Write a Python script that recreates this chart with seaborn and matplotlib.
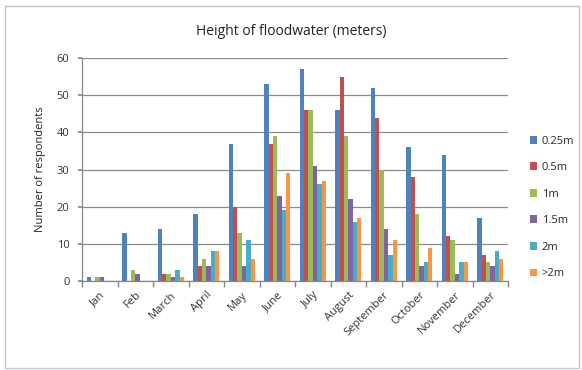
import matplotlib
matplotlib.use("Agg")
import matplotlib.pyplot as plt
from matplotlib.patches import Rectangle
import numpy as np
import pandas as pd
import seaborn as sns

months = ["Jan", "Feb", "March", "April", "May", "June", "July", "August",
          "September", "October", "November", "December"]
heights = ["0.25m", "0.5m", "1m", "1.5m", "2m", ">2m"]

h025 = [1, 13, 14, 18, 37, 53, 57, 46, 52, 36, 34, 17]
h05 = [0, 0, 2, 4, 20, 37, 46, 55, 44, 28, 12, 7]
h1 = [1, 3, 2, 6, 13, 39, 46, 39, 30, 18, 11, 5]
h15 = [1, 2, 1, 4, 4, 23, 31, 22, 14, 4, 2, 4]
h2 = [0, 0, 3, 8, 11, 19, 26, 16, 7, 5, 5, 8]
h2plus = [0, 0, 1, 8, 6, 29, 27, 17, 11, 9, 5, 6]

colors = ["#4F81BD", "#C0504D", "#9BBB59", "#8064A2", "#4BACC6", "#F79646"]

series = [h025, h05, h1, h15, h2, h2plus]
df = pd.DataFrame({
    "Month": np.repeat([months], len(heights), axis=0).ravel(),
    "Height": np.repeat(heights, len(months)),
    "Respondents": np.concatenate(series),
})

sns.set_theme(style="white")
plt.rcParams["font.family"] = ["Open Sans", "DejaVu Sans"]

fig = plt.figure(figsize=(5.82, 3.70), dpi=100)
ax = fig.add_axes([0.141, 0.2405, 0.732, 0.6025])

sns.barplot(data=df, x="Month", y="Respondents", hue="Height",
            order=months, hue_order=heights, palette=colors,
            width=0.74, gap=0, saturation=1, linewidth=0, edgecolor="none",
            ax=ax, legend=True)

ax.set_ylim(0, 60)
ax.set_xlim(-0.5, len(months) - 0.5)
ax.set_yticks(range(0, 61, 10))
ax.tick_params(axis="y", labelsize=8, length=3, color="#888888", colors="#333333")
ax.tick_params(axis="y", which="major", direction="out", left=True, pad=6)
ax.yaxis.grid(True, color="#8c8c8c", linewidth=0.9)
ax.set_axisbelow(True)

ax.set_xticks(range(len(months)))
ax.set_xticklabels(months, rotation=45, ha="right", rotation_mode="anchor",
                   fontsize=8, color="#333333")
ax.tick_params(axis="x", which="major", length=0, pad=6)
ax.set_xticks(np.arange(-0.5, len(months)), minor=True)
ax.tick_params(axis="x", which="minor", length=4, color="#888888", bottom=True,
               direction="out")

for side in ["top", "right"]:
    ax.spines[side].set_visible(False)
for side in ["left", "bottom"]:
    ax.spines[side].set_color("#888888")
    ax.spines[side].set_linewidth(0.9)

ax.set_xlabel("")
ax.set_ylabel("Number of respondents", fontsize=8, color="#222222", labelpad=8)
fig.text(0.5, 0.915, "Height of floodwater (meters)", ha="center", va="center",
         fontsize=10, color="#222222")

handles, labels = ax.get_legend_handles_labels()
ax.legend(handles, labels, loc="center left", bbox_to_anchor=(1.04, 0.33),
          frameon=False, fontsize=8, handlelength=0.7, handleheight=0.7,
          handletextpad=0.4, labelspacing=1.4, borderaxespad=0)

fig.patches.append(Rectangle((0.009, 0.005), 0.985, 0.978, transform=fig.transFigure,
                             fill=False, edgecolor="#b9c7d4", linewidth=1.0))

fig.savefig("out.png", dpi=100, facecolor="white")
